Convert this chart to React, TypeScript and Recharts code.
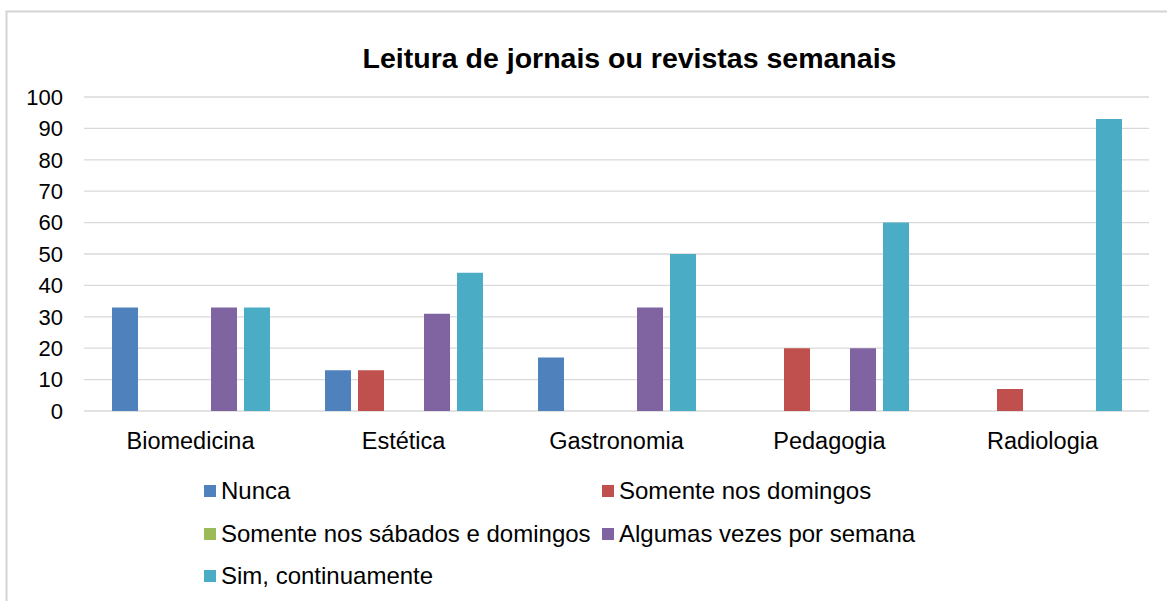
import React from 'react';
import { BarChart, Bar, XAxis, YAxis, CartesianGrid, Legend } from 'recharts';

const courses = ['Biomedicina', 'Estética', 'Gastronomia', 'Pedagogia', 'Radiologia'];

const nunca = [33, 13, 17, 0, 0];
const somenteDomingos = [0, 13, 0, 20, 7];
const sabadosDomingos = [0, 0, 0, 0, 0];
const algumasVezes = [33, 31, 33, 20, 0];
const continuamente = [33, 44, 50, 60, 93];

const yTicks = [0, 10, 20, 30, 40, 50, 60, 70, 80, 90, 100];

const series = [
  { key: 'nunca', name: 'Nunca', color: '#4f81bd', values: nunca },
  { key: 'domingos', name: 'Somente nos domingos', color: '#c0504d', values: somenteDomingos },
  { key: 'sabados', name: 'Somente nos sábados e domingos', color: '#9bbb59', values: sabadosDomingos },
  { key: 'algumas', name: 'Algumas vezes por semana', color: '#8064a2', values: algumasVezes },
  { key: 'sim', name: 'Sim, continuamente', color: '#4bacc6', values: continuamente },
];

const data = courses.map((name, i) => {
  const row: Record<string, string | number> = { name };
  series.forEach((s) => {
    row[s.key] = s.values[i];
  });
  return row;
});

const FONT = '"Liberation Sans", Arial, sans-serif';

// legenda em duas colunas, como no original
const LegendGrid = () => (
  <div
    style={{
      display: 'grid',
      gridTemplateColumns: '398px auto',
      fontFamily: FONT,
      fontSize: 24,
      color: '#000',
    }}
  >
    {series.map((s) => (
      <div key={s.key} style={{ display: 'flex', alignItems: 'center', height: 42.5, whiteSpace: 'nowrap' }}>
        <span style={{ width: 12, height: 12, background: s.color, marginRight: 5, display: 'inline-block' }} />
        <span>{s.name}</span>
      </div>
    ))}
  </div>
);

export default function App() {
  return (
    <div style={{ position: 'fixed', left: 0, top: 0, width: 1167, height: 601, overflow: 'hidden', background: '#fff' }}>
      <svg width={1167} height={601} style={{ position: 'absolute', left: 0, top: 0 }}>
        <path d="M6.5 601 L6.5 11.5 L1167 11.5" fill="none" stroke="#d4d4d4" strokeWidth={2} />
      </svg>
      <div
        style={{
          position: 'absolute',
          left: 0,
          width: 1259,
          top: 44,
          textAlign: 'center',
          fontFamily: FONT,
          fontWeight: 'bold',
          fontSize: 28.5,
          lineHeight: '28px',
          color: '#000',
        }}
      >
        Leitura de jornais ou revistas semanais
      </div>
      <div style={{ position: 'absolute', left: 0, top: 0 }}>
        <BarChart
          width={1167}
          height={601}
          data={data}
          margin={{ top: 97, right: 18, bottom: 150, left: 0 }}
          barSize={26}
          barGap={7}
        >
          <CartesianGrid vertical={false} stroke="#d9d9d9" strokeWidth={1.3} />
          <XAxis
            dataKey="name"
            height={40}
            axisLine={false}
            tickLine={false}
            tickSize={0}
            tickMargin={21}
            tick={{ fontSize: 23.5, fill: '#000', fontFamily: FONT }}
          />
          <YAxis
            width={84}
            domain={[0, 100]}
            ticks={yTicks}
            interval={0}
            axisLine={false}
            tickLine={false}
            tickSize={0}
            tickMargin={21}
            tick={{ fontSize: 22, fill: '#000', fontFamily: FONT }}
          />
          <Legend
            layout="vertical"
            align="center"
            verticalAlign="middle"
            wrapperStyle={{ left: 204, top: 470, width: 800 }}
            content={() => <LegendGrid />}
          />
          {series.map((s) => (
            <Bar key={s.key} dataKey={s.key} name={s.name} fill={s.color} isAnimationActive={false} />
          ))}
        </BarChart>
      </div>
    </div>
  );
}
